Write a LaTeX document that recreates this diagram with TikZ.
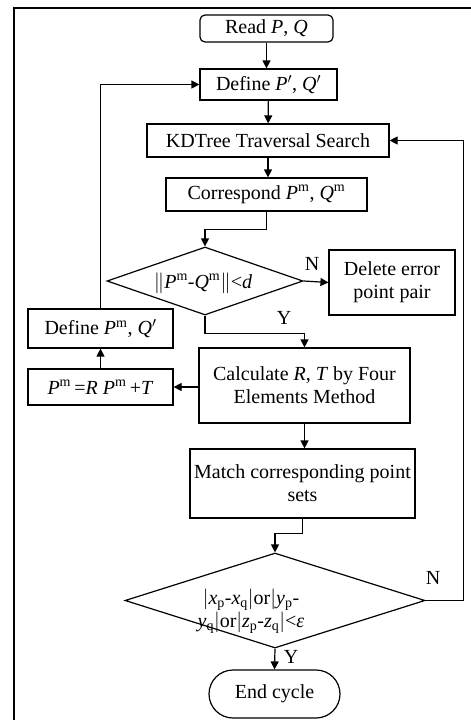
\documentclass[tikz,border=0pt]{standalone}
\usepackage{fontspec}
\setmainfont{Liberation Serif}
\usepackage{tikz}
\usetikzlibrary{arrows.meta,shapes.geometric}

\newcommand{\Psup}{\textit{P}\textsuperscript{m}}
\newcommand{\Qsup}{\textit{Q}\textsuperscript{m}}

\begin{document}
\begin{tikzpicture}[x=1pt,y=-1pt,line width=1.2pt,
	every node/.append style={font=\fontsize{20}{23}\selectfont}]
\useasboundingbox (0,0) rectangle (471,720);
	\begin{scope}[every node/.style = {rectangle, draw, align=center, inner sep=0pt,
		font=\fontsize{20}{23}\selectfont}]
		\node[rounded corners=5pt, minimum width=133pt, minimum height=27pt] (read) at (266.5,28.5) {Read \textit{P}, \textit{Q}};
		\node[minimum width=137pt, minimum height=31pt] (defA) at (268.5,84.5) {Define \textit{P}$'$, \textit{Q}$'$};
		\node[minimum width=242pt, minimum height=33pt] (kd) at (268,140.5) {KDTree Traversal Search};
		\node[minimum width=201pt, minimum height=33pt] (corr) at (266.5,194.5) {Correspond \Psup, \Qsup};
		\node[diamond, minimum width=196pt, minimum height=68pt] (dA) at (205,281) {};
		\node[minimum width=126pt, minimum height=65pt] (del) at (392,282.5) {Delete error\\point pair};
		\node[minimum width=211pt, minimum height=75pt] (calc) at (304.5,385.5) {Calculate \textit{R}, \textit{T} by Four\\Elements Method};
		\node[minimum width=145pt, minimum height=36pt] (upd) at (100.5,387) {\Psup\,=\textit{R} \Psup\,+\textit{T}};
		\node[minimum width=145pt, minimum height=39pt] (defB) at (100.5,328.5) {Define \Psup, \textit{Q}$'$};
		\node[minimum width=225pt, minimum height=69pt] (match) at (302.5,483.5) {Match corresponding point\\sets};
		\node[diamond, minimum width=300pt, minimum height=95pt] (dB) at (275,600.5) {};
		\node[rounded corners=24pt, minimum width=131pt, minimum height=48pt] (end) at (274.5,694) {End cycle};
	\end{scope}
	% texts of the two tests
	\node (dAtxt) at (203,283) {$\|$\Psup-\Qsup$\|$<\textit{d}};
	\node[align=center] (dBtxt) at (251,611) {$|$\textit{x}\textsubscript{p}-\textit{x}\textsubscript{q}$|$or$|$\textit{y}\textsubscript{p}-\\\textit{y}\textsubscript{q}$|$or$|$\textit{z}\textsubscript{p}-\textit{z}\textsubscript{q}$|$<\textit{ε}};
	\begin{scope}[>={Triangle[length=8pt,width=8pt]}]
		\path [->] (read.south) edge (read.south |- defA.north);
		\path [->] (defA) edge (kd);
		\path [->] (kd.south) edge (kd.south |- corr.north);
		\draw [->] (corr.south) -- ++(0,18) -| (dA.north);
		\path [->] (dA.east) edge (del.west);
		\draw [->] (dA.south) -- ++(0,18) -| (calc.north);
		\path [->] (calc.west |- upd.east) edge (upd.east);
		\path [->] (upd) edge (defB);
		\draw [->] (defB.north) |- (defA.west);
		\path [->] (calc.south) edge (calc.south |- match.north);
		\draw [->] (match.south) -- ++(0,15) -| (dB.north);
		\draw [->] (dB.east) -- ++(38,0) |- (kd.east);
		\path [->] (dB.south) edge (end.north);
	\end{scope}
	\node (nA) at (312,264) {N};
	\node (yA) at (284,318) {Y};
	\node (nB) at (433,578) {N};
	\node (yB) at (291,657) {Y};
\draw[line width=2pt] (14,720) |- (471,8);
\end{tikzpicture}
\end{document}
